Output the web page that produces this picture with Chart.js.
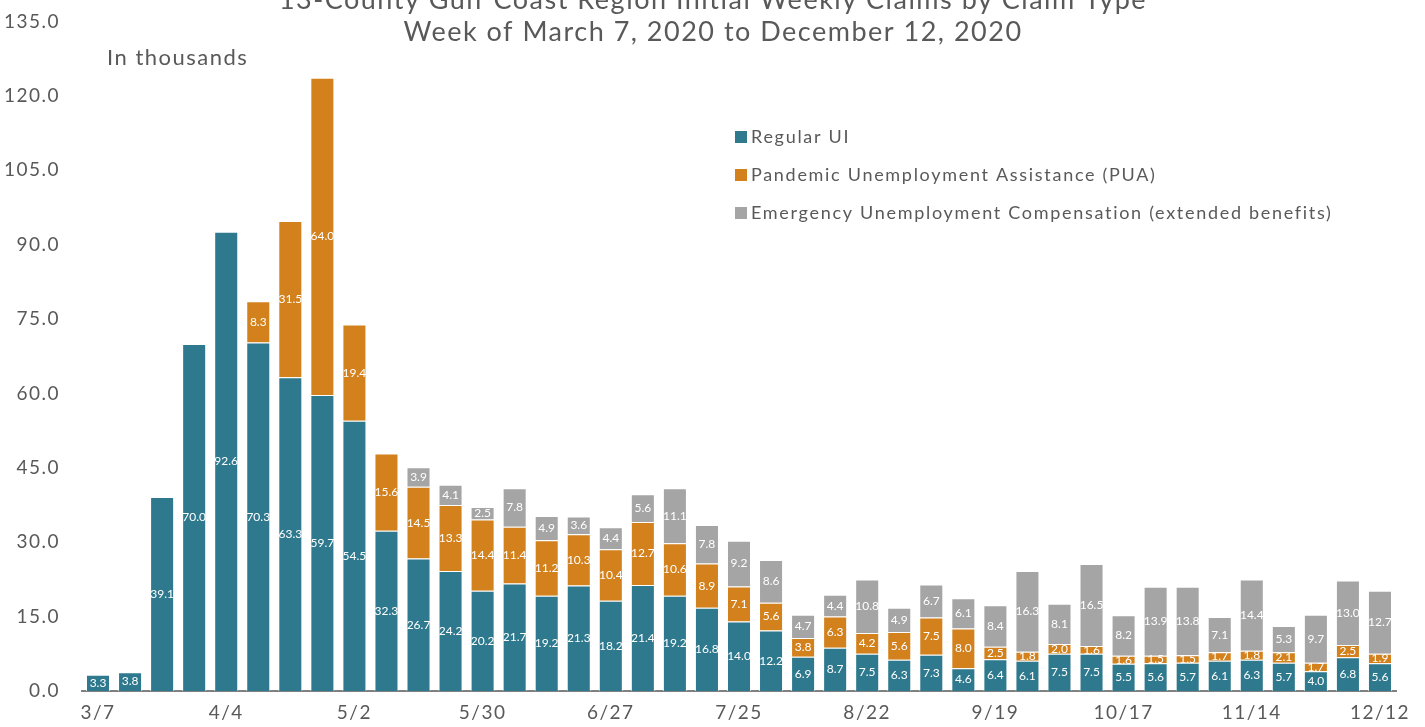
<!DOCTYPE html>
<html>
<head>
	<title>Weekly Claims by Claim Type</title>
	<script src="https://cdn.jsdelivr.net/npm/chart.js"></script>
	<style>
		html, body { margin: 0; padding: 0; background: #ffffff; }
		#wrap { width: 1425px; height: 727px; }
	</style>
</head>
<body>
	<div id="wrap"><canvas id="claimsChart" width="1425" height="727"></canvas></div>
	<script>
		var weeks = ['3/7','3/14','3/21','3/28','4/4','4/11','4/18','4/25','5/2','5/9','5/16','5/23','5/30',
			'6/6','6/13','6/20','6/27','7/4','7/11','7/18','7/25','8/1','8/8','8/15','8/22','8/29','9/5',
			'9/12','9/19','9/26','10/3','10/10','10/17','10/24','10/31','11/7','11/14','11/21','11/28','12/5','12/12'];
		var regularUI = [3.3,3.8,39.1,70.0,92.6,70.3,63.3,59.7,54.5,32.3,26.7,24.2,20.2,21.7,19.2,21.3,18.2,21.4,19.2,16.8,
			14.0,12.2,6.9,8.7,7.5,6.3,7.3,4.6,6.4,6.1,7.5,7.5,5.5,5.6,5.7,6.1,6.3,5.7,4.0,6.8,5.6];
		var pua = [null,null,null,null,null,8.3,31.5,64.0,19.4,15.6,14.5,13.3,14.4,11.4,11.2,10.3,10.4,12.7,10.6,8.9,
			7.1,5.6,3.8,6.3,4.2,5.6,7.5,8.0,2.5,1.8,2.0,1.6,1.6,1.5,1.5,1.7,1.8,2.1,1.7,2.5,1.9];
		var euc = [null,null,null,null,null,null,null,null,null,null,3.9,4.1,2.5,7.8,4.9,3.6,4.4,5.6,11.1,7.8,
			9.2,8.6,4.7,4.4,10.8,4.9,6.7,6.1,8.4,16.3,8.1,16.5,8.2,13.9,13.8,7.1,14.4,5.3,9.7,13.0,12.7];
		var titleLines = ['13-County Gulf Coast Region Initial Weekly Claims by Claim Type',
			'Week of March 7, 2020 to December 12, 2020'];
		var unitNote = 'In thousands';

		var fontName = 'Lato, "Open Sans", sans-serif';
		var textGray = '#595959';

		// the original font is wide, so space the tick letters out a bit
		var wideText = {
			id: 'wideText',
			beforeDraw: function(chart) { chart.ctx.letterSpacing = '1.5px'; }
		};

		// white value labels in the middle of each segment
		var segmentLabels = {
			id: 'segmentLabels',
			afterDatasetsDraw: function(chart) {
				var ctx = chart.ctx;
				ctx.save();
				ctx.letterSpacing = '0px';
				ctx.fillStyle = '#ffffff';
				ctx.font = '12px ' + fontName;
				ctx.textAlign = 'center';
				ctx.textBaseline = 'middle';
				chart.data.datasets.forEach(function(ds, i) {
					var meta = chart.getDatasetMeta(i);
					meta.data.forEach(function(bar, j) {
						var v = ds.data[j];
						if (v === null || v === undefined) return;
						ctx.fillText(v.toFixed(1), bar.x, (bar.y + bar.base) / 2);
					});
				});
				ctx.restore();
			}
		};

		// title, unit note and legend, placed like the original slide
		var extras = {
			id: 'extras',
			afterDraw: function(chart) {
				var ctx = chart.ctx;
				ctx.save();
				ctx.letterSpacing = '1.5px';
				ctx.fillStyle = textGray;
				ctx.textBaseline = 'middle';
				ctx.textAlign = 'center';
				ctx.font = '27px ' + fontName;
				ctx.fillText(titleLines[0], 713, 0);
				ctx.fillText(titleLines[1], 713, 32);
				ctx.textAlign = 'left';
				ctx.font = '22px ' + fontName;
				ctx.fillText(unitNote, 107, 58);
				ctx.font = '18px ' + fontName;
				ctx.letterSpacing = '1.7px';
				chart.data.datasets.forEach(function(ds, i) {
					var y = 137 + i * 38;
					ctx.fillStyle = ds.backgroundColor;
					ctx.fillRect(735, y - 6, 12, 12);
					ctx.fillStyle = textGray;
					ctx.fillText(ds.label, 751, y);
				});
				ctx.restore();
			}
		};

		var ctx1 = document.getElementById('claimsChart').getContext('2d');
		var chart1 = new Chart(ctx1, {
			type: 'bar',
			data: {
				labels: weeks,
				datasets: [
					{ label: 'Regular UI', data: regularUI, backgroundColor: '#2E798D' },
					{ label: 'Pandemic Unemployment Assistance (PUA)', data: pua, backgroundColor: '#D2811C' },
					{ label: 'Emergency Unemployment Compensation (extended benefits)', data: euc, backgroundColor: '#A5A5A5' }
				]
			},
			options: {
				responsive: false,
				animation: false,
				datasets: {
					bar: {
						barPercentage: 0.75,
						categoryPercentage: 1.0,
						borderColor: 'rgba(255,255,255,0.7)',
						borderWidth: 1
					}
				},
				layout: { padding: { top: 13, right: 29, left: 0, bottom: 0 } },
				plugins: {
					legend: { display: false },
					tooltip: { enabled: false }
				},
				scales: {
					x: {
						stacked: true,
						grid: { display: false },
						border: { display: true, color: '#808080', width: 2 },
						ticks: {
							autoSkip: false,
							maxRotation: 0,
							color: textGray,
							font: { family: fontName, size: 19 },
							padding: 2,
							callback: function(val, idx) { return idx % 4 === 0 ? weeks[idx] : ''; }
						},
						afterFit: function(scale) { scale.height = 36; }
					},
					y: {
						stacked: true,
						min: 0,
						max: 135,
						grid: { display: false },
						border: { display: false },
						ticks: {
							stepSize: 15,
							color: textGray,
							font: { family: fontName, size: 19, lineHeight: 0.8 },
							padding: 14,
							callback: function(v) { return v.toFixed(1); }
						},
						afterFit: function(scale) { scale.width = 82; }
					}
				}
			},
			plugins: [wideText, segmentLabels, extras]
		});
	</script>
</body>
</html>
